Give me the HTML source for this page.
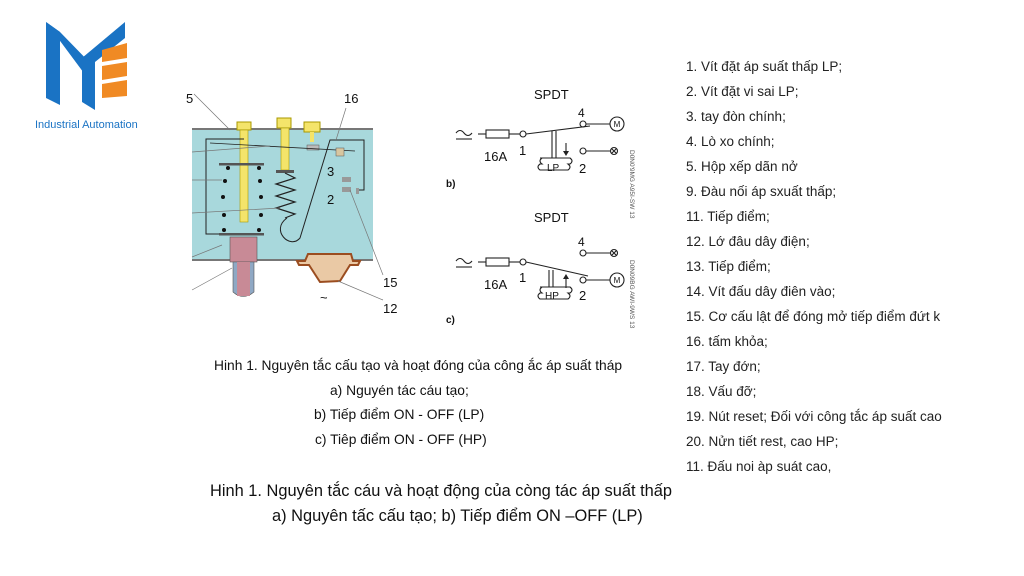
<!DOCTYPE html>
<html><head><meta charset="utf-8"><style>
body{margin:0;background:#fff;width:1024px;height:576px;overflow:hidden;position:relative;font-family:"Liberation Sans",sans-serif}
.t{position:absolute;white-space:nowrap;color:#111}
.list div{position:absolute;left:686px;font-size:13.5px;color:#222;white-space:nowrap}
</style></head><body>
<svg width="1024" height="576" style="position:absolute;left:0;top:0">
<polygon points="46,22 60,32 60,105 46,98" fill="#1a73c4"/>
<polygon points="46,22 60,32 95,68 95,88" fill="#1a73c4"/>
<polygon points="82,58 95,48 95,110 82,102" fill="#1a73c4"/>
<polygon points="82,58 125,22 125,38 95,62" fill="#1a73c4"/>
<polygon points="102,50 127,43 127,58 102,62" fill="#f08a24"/>
<polygon points="102,66 127,62 127,76 102,80" fill="#f08a24"/>
<polygon points="102,84 127,80 127,96 102,98" fill="#f08a24"/>
<text x="35" y="128" font-size="11" fill="#1a73c4" font-family="Liberation Sans">Industrial Automation</text>
<rect x="192" y="129" width="181" height="131" fill="#a8d8dc"/>
<line x1="192" y1="129" x2="373" y2="129" stroke="#777" stroke-width="2"/>
<line x1="192" y1="260" x2="373" y2="260" stroke="#777" stroke-width="2"/>
<rect x="237" y="122" width="14" height="8" fill="#f4e46a" stroke="#a90"/>
<rect x="240" y="130" width="8" height="92" fill="#f4e46a" stroke="#a90" stroke-width=".6"/>
<rect x="277" y="118" width="14" height="10" fill="#f4e46a" stroke="#a90"/>
<rect x="281" y="128" width="8" height="42" fill="#f4e46a" stroke="#a90" stroke-width=".6"/>
<rect x="304" y="122" width="16" height="10" fill="#f4e46a" stroke="#a90"/>
<rect x="310" y="132" width="4" height="10" fill="#f4e46a"/>
<rect x="307" y="145" width="12" height="5" fill="#bbb" stroke="#555" stroke-width=".5"/>
<rect x="219" y="163" width="45" height="2.5" fill="#555"/>
<rect x="276" y="170" width="18" height="3" fill="#555"/>
<polyline points="285,173 295,178 276,184 295,190 276,196 295,202 276,208 295,214 285,218" fill="none" stroke="#222" stroke-width="1.2"/>
<g fill="#111"><circle cx="228" cy="168" r="2"/><circle cx="259" cy="168" r="2"/><circle cx="225" cy="181" r="2"/><circle cx="260" cy="181" r="2"/><circle cx="223" cy="197" r="2"/><circle cx="261" cy="197" r="2"/><circle cx="224" cy="215" r="2"/><circle cx="261" cy="215" r="2"/><circle cx="224" cy="230" r="2"/><circle cx="259" cy="230" r="2"/></g>
<polyline points="244,139 206,139 206,234 262,234" fill="none" stroke="#222" stroke-width="1"/>
<rect x="219" y="233" width="45" height="2.5" fill="#555"/>
<path d="M287,218 C270,230 290,250 300,238 L330,140 L364,140 L364,190 L358,190" fill="none" stroke="#222" stroke-width="1"/>
<line x1="210" y1="143" x2="355" y2="151" stroke="#222" stroke-width=".8"/>
<rect x="336" y="148" width="8" height="8" fill="#d8c6a0" stroke="#555" stroke-width=".5"/>
<rect x="342" y="177" width="9" height="5" fill="#999"/><rect x="342" y="187" width="9" height="5" fill="#999"/><rect x="356" y="188" width="3" height="6" fill="#999"/>
<rect x="230" y="237" width="27" height="25" fill="#c88a96" stroke="#555" stroke-width=".6"/>
<path d="M233,262 L233,292 Q243,301 254,292 L254,262 Z" fill="#8fa8c4" stroke="#555" stroke-width=".6"/>
<rect x="237" y="262" width="13" height="34" fill="#c88a96"/>
<path d="M297,261 L305,261 L308,254 L351,254 L353,261 L360,261 L358,265 L350,265 L340,281 L320,282 L309,265 L299,265 Z" fill="#eac9a5" stroke="#9b4d20" stroke-width="2"/>
<g font-size="13" fill="#111" font-family="Liberation Sans">
<text x="186" y="103">5</text><text x="344" y="103">16</text><text x="327" y="176">3</text><text x="327" y="204">2</text><text x="383" y="287">15</text><text x="383" y="313">12</text><text x="320" y="302">~</text></g>
<g stroke="#777" stroke-width=".7"><line x1="194" y1="94" x2="230" y2="130"/><line x1="346" y1="108" x2="336" y2="140"/><line x1="350" y1="190" x2="383" y2="275"/><line x1="338" y1="281" x2="383" y2="300"/><line x1="192" y1="152" x2="270" y2="146"/><line x1="192" y1="180" x2="222" y2="180"/><line x1="192" y1="213" x2="280" y2="208"/><line x1="192" y1="257" x2="222" y2="245"/><line x1="192" y1="290" x2="232" y2="268"/></g>
<g font-family="Liberation Sans" fill="#111" stroke="none">
<text x="534" y="99" font-size="13">SPDT</text>
<text x="578" y="117" font-size="12">4</text>
<text x="484" y="161" font-size="13">16A</text><text x="519" y="155" font-size="13">1</text><text x="579" y="173" font-size="13">2</text>
<text x="446" y="187" font-size="10" font-weight="bold">b)</text>
<text x="534" y="222" font-size="13">SPDT</text>
<text x="578" y="246" font-size="12">4</text>
<text x="484" y="289" font-size="13">16A</text><text x="519" y="282" font-size="13">1</text><text x="579" y="300" font-size="13">2</text>
<text x="446" y="323" font-size="10" font-weight="bold">c)</text>
<text x="547" y="171" font-size="10">LP</text><text x="545" y="299" font-size="10">HP</text>
</g>
<g fill="none" stroke="#222" stroke-width="1.1">
<path d="M456,133 q4,-5 8,0 q4,5 8,0"/><line x1="456" y1="139" x2="472" y2="139"/>
<line x1="478" y1="134" x2="486" y2="134"/><rect x="486" y="130" width="23" height="8"/><line x1="509" y1="134" x2="520" y2="134"/><circle cx="523" cy="134" r="3"/>
<line x1="526" y1="134" x2="590" y2="126"/><circle cx="583" cy="124" r="3"/><line x1="586" y1="124" x2="610" y2="124"/><circle cx="617" cy="124" r="7"/>
<circle cx="583" cy="151" r="3"/><line x1="586" y1="151" x2="610" y2="151"/><circle cx="614" cy="151" r="3.5"/>
<path d="M611.5,148.5 l5,5 M616.5,148.5 l-5,5"/>
<line x1="552" y1="131" x2="552" y2="158"/><line x1="556" y1="131" x2="556" y2="158"/><line x1="566" y1="143" x2="566" y2="152"/>
<path d="M540,158 h30 q4,3 0,6 h-2 q4,3 0,6 h-28 q-4,-3 0,-6 h2 q-4,-3 0,-6 z"/>
<path d="M456,261 q4,-5 8,0 q4,5 8,0"/><line x1="456" y1="267" x2="472" y2="267"/>
<line x1="478" y1="262" x2="486" y2="262"/><rect x="486" y="258" width="23" height="8"/><line x1="509" y1="262" x2="520" y2="262"/><circle cx="523" cy="262" r="3"/>
<line x1="526" y1="262" x2="588" y2="276"/><circle cx="583" cy="253" r="3"/><line x1="586" y1="253" x2="610" y2="253"/><circle cx="614" cy="253" r="3.5"/>
<path d="M611.5,250.5 l5,5 M616.5,250.5 l-5,5"/>
<circle cx="583" cy="280" r="3"/><line x1="586" y1="280" x2="610" y2="280"/><circle cx="617" cy="280" r="7"/>
<line x1="549" y1="270" x2="549" y2="287"/><line x1="553" y1="270" x2="553" y2="287"/><line x1="566" y1="288" x2="566" y2="276"/>
<path d="M540,287 h30 q4,3 0,6 h-2 q4,3 0,6 h-28 q-4,-3 0,-6 h2 q-4,-3 0,-6 z"/>
</g>
<path d="M563,151 l3,5 l3,-5z M563,279 l3,-5 l3,5z" fill="#222"/>
<text x="617" y="125" font-size="8" font-family="Liberation Sans" fill="#111" text-anchor="middle" dominant-baseline="middle">M</text>
<text x="617" y="281" font-size="8" font-family="Liberation Sans" fill="#111" text-anchor="middle" dominant-baseline="middle">M</text>
<text font-size="6.5" fill="#555" font-family="Liberation Sans" transform="translate(630,150) rotate(90)">D0N0'9MG A95I-SW 13</text>
<text font-size="6.5" fill="#555" font-family="Liberation Sans" transform="translate(630,260) rotate(90)">D0N09BG AWI-9WS 13</text>
</svg>
<div class="t" style="left:214px;top:358px;font-size:13.8px">Hinh 1. Nguyên tắc cấu tạo và hoạt đóng của công ắc áp suất  tháp</div>
<div class="t" style="left:330px;top:383px;font-size:13.8px">a) Nguyén tác cáu tạo;</div>
<div class="t" style="left:314px;top:407px;font-size:13.8px">b) Tiếp điểm ON - OFF (LP)</div>
<div class="t" style="left:315px;top:432px;font-size:13.8px">c) Tiêp điểm ON - OFF (HP)</div>
<div class="t" style="left:210px;top:482px;font-size:16.4px">Hinh 1. Nguyên tắc cáu  và hoạt động của còng tác áp suất thấp</div>
<div class="t" style="left:272px;top:507px;font-size:16.4px">a) Nguyên tấc cấu tạo; b) Tiếp điểm ON –OFF (LP)</div>
<div class="list">
<div style="top:59px">1. Vít đặt áp suất thấp LP;</div>
<div style="top:84px">2. Vít đặt vi sai LP;</div>
<div style="top:109px">3. tay đòn chính;</div>
<div style="top:134px">4. Lò xo chính;</div>
<div style="top:159px">5. Hộp xếp dãn nở</div>
<div style="top:184px">9. Đàu nối áp sxuất thấp;</div>
<div style="top:209px">11. Tiếp điểm;</div>
<div style="top:234px">12. Lớ đâu dây điện;</div>
<div style="top:259px">13. Tiếp điểm;</div>
<div style="top:284px">14. Vít đấu dây điên vào;</div>
<div style="top:309px">15. Cơ cấu lật để đóng mở tiếp điểm đứt k</div>
<div style="top:334px">16. tấm khỏa;</div>
<div style="top:359px">17. Tay đớn;</div>
<div style="top:384px">18. Vấu đỡ;</div>
<div style="top:409px">19. Nút reset; Đối với công tắc áp suất cao</div>
<div style="top:434px">20. Nửn tiết rest, cao HP;</div>
<div style="top:459px">11. Đấu noi àp suát cao,</div>
</div>
</body></html>
